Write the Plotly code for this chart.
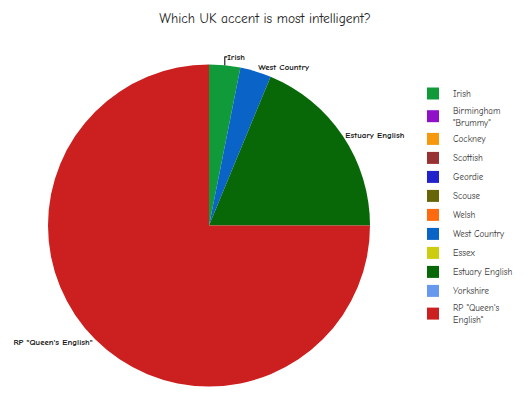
import plotly.graph_objects as go

categories = ["Irish", "Birmingham<br>\"Brummy\"", "Cockney", "Scottish", "Geordie", "Scouse",
              "Welsh", "West Country", "Essex", "Estuary English", "Yorkshire",
              "RP \"Queen's<br>English\""]
votes = [1, 0, 0, 0, 0, 0, 0, 1, 0, 6, 0, 24]
slice_text = ["<b>Irish</b>", "", "", "", "", "", "", "<b>West Country</b>", "",
              "<b>Estuary English</b>", "", "<b>RP \"Queen's English\"</b>"]
colors = ["#109a3a", "#9010c8", "#f5980e", "#983232", "#2222cc", "#666608",
          "#ff6a10", "#0a64c8", "#cccc10", "#086808", "#6699ee", "#cc2020"]

W, H = 530, 408
OFF = 8  # page body margin
fig = go.Figure(go.Pie(
    labels=categories,
    values=votes,
    text=slice_text,
    textinfo="text",
    textposition="outside",
    sort=False,
    direction="clockwise",
    rotation=0,
    marker=dict(colors=colors, line=dict(width=0)),
    textfont=dict(size=8.8, color="#111"),
    domain=dict(x=[(48 - OFF) / W, (370 - OFF) / W], y=[1 - (387 - OFF) / H, 1 - (64 - OFF) / H]),
    showlegend=True,
))
fig.update_layout(
    width=W, height=H,
    margin=dict(l=0, r=0, t=0, b=0),
    paper_bgcolor="white",
    font=dict(family="Comic Sans MS, Comic Neue, Open Sans, sans-serif", color="#222"),
    title=dict(text="Which UK accent is most intelligent?", x=(265 - OFF) / W, xanchor="center",
               y=1 - (18 - OFF) / H, yanchor="middle", font=dict(size=13.5, color="#222")),
    legend=dict(x=(427 - OFF - 14) / W, y=1 - 71 / H, xanchor="left", yanchor="top",
                font=dict(size=9, color="#333"), traceorder="normal",
                itemclick=False),
)
fig.write_html("out.html")
